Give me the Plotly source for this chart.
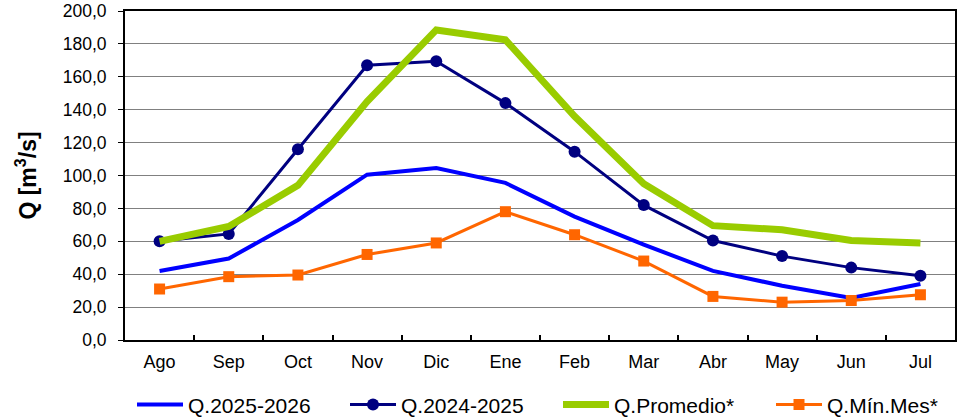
import plotly.graph_objects as go

# meses del año hidrológico
meses = ['Ago', 'Sep', 'Oct', 'Nov', 'Dic', 'Ene', 'Feb', 'Mar', 'Abr', 'May', 'Jun', 'Jul']

# caudales [m3/s]
q_2025_2026 = [42.0, 49.5, 73.0, 100.5, 104.5, 95.5, 75.0, 58.0, 42.0, 33.0, 25.5, 34.0]
q_2024_2025 = [60.0, 64.5, 116.0, 167.0, 169.5, 144.0, 114.5, 82.0, 60.5, 51.0, 44.0, 39.0]
q_promedio = [60.0, 69.0, 94.0, 145.0, 188.5, 182.5, 136.0, 95.0, 69.5, 67.0, 60.5, 59.0]
q_min_mes = [31.0, 38.5, 39.5, 52.0, 59.0, 78.0, 64.0, 48.0, 26.5, 23.0, 24.0, 27.5]

fig = go.Figure()

fig.add_trace(go.Scatter(x=meses, y=q_2025_2026, mode='lines', name='Q.2025-2026',
                         line=dict(color='#0000FF', width=4)))
fig.add_trace(go.Scatter(x=meses, y=q_2024_2025, mode='lines+markers', name='Q.2024-2025',
                         line=dict(color='#000080', width=3),
                         marker=dict(symbol='circle', size=12, color='#000080')))
fig.add_trace(go.Scatter(x=meses, y=q_promedio, mode='lines', name='Q.Promedio*',
                         line=dict(color='#99CC00', width=7)))
fig.add_trace(go.Scatter(x=meses, y=q_min_mes, mode='lines+markers', name='Q.Mín.Mes*',
                         line=dict(color='#FF6600', width=3),
                         marker=dict(symbol='square', size=11, color='#FF6600')))

# ejes y caja negra alrededor
fig.update_xaxes(type='category', range=[-0.5, 11.5],
                 showline=True, linecolor='black', linewidth=2, mirror=True,
                 ticks='inside', tickson='boundaries', ticklen=5, tickcolor='black', tickwidth=2,
                 showgrid=False, tickfont=dict(size=18, color='black'), ticklabelstandoff=4)
fig.update_yaxes(range=[0, 200], dtick=20, tickformat='.1f',
                 showline=True, linecolor='black', linewidth=2, mirror=True,
                 ticks='outside', ticklen=5, tickcolor='black', tickwidth=1,
                 showgrid=True, gridcolor='#808080', gridwidth=1, zeroline=False,
                 tickfont=dict(size=17.5, color='black'), ticklabelstandoff=8,
                 ticklabeloverflow='allow',
                 title=dict(text='<b>Q [m<sup>3</sup>/s]</b>', font=dict(size=23, color='black'),
                            standoff=20))

fig.update_layout(width=960, height=420,
                  margin=dict(l=125, r=5, t=11, b=80, autoexpand=False),
                  paper_bgcolor='white', plot_bgcolor='white',
                  font=dict(family='Liberation Sans, Arial, sans-serif', color='black'),
                  separators=',.',
                  showlegend=True,
                  legend=dict(orientation='h', x=-0.0012, xanchor='left', y=-0.197, yanchor='middle',
                              font=dict(size=21), itemwidth=46, indentation=8,
                              entrywidth=144, entrywidthmode='pixels',
                              bgcolor='rgba(0,0,0,0)'))

# sin el margen por defecto del body la figura ocupa toda la ventana
fig.write_html('out.html', config={'displayModeBar': False},
               post_script="document.body.style.margin = '0';")
